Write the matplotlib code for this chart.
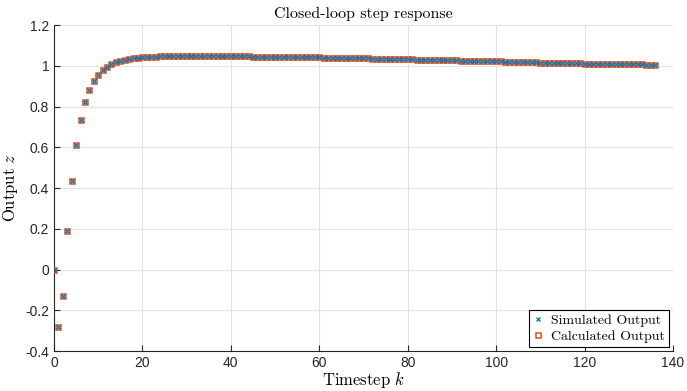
import matplotlib.pyplot as plt

plt.rcParams["mathtext.fontset"] = "cm"

# step response values, k = 0..136
k = list(range(137))
z_calc = [
    0.000, -0.280, -0.130, 0.190, 0.435, 0.610, 0.735, 0.820, 0.880, 0.925,
    0.955, 0.978, 0.995, 1.008, 1.017, 1.024, 1.030, 1.034, 1.037, 1.040,
    1.042, 1.043, 1.044, 1.045, 1.046, 1.047, 1.047, 1.048, 1.048, 1.048,
    1.048, 1.048, 1.048, 1.048, 1.048, 1.048, 1.047, 1.047, 1.047, 1.047,
    1.047, 1.046, 1.046, 1.046, 1.046, 1.045, 1.045, 1.045, 1.045, 1.044,
    1.044, 1.044, 1.043, 1.043, 1.043, 1.042, 1.042, 1.042, 1.041, 1.041,
    1.041, 1.040, 1.040, 1.039, 1.039, 1.039, 1.038, 1.038, 1.037, 1.037,
    1.036, 1.036, 1.035, 1.035, 1.034, 1.034, 1.033, 1.033, 1.032, 1.032,
    1.031, 1.031, 1.030, 1.030, 1.029, 1.029, 1.028, 1.028, 1.027, 1.027,
    1.026, 1.026, 1.025, 1.025, 1.024, 1.024, 1.023, 1.023, 1.022, 1.022,
    1.021, 1.021, 1.020, 1.020, 1.019, 1.019, 1.018, 1.018, 1.017, 1.017,
    1.016, 1.016, 1.015, 1.015, 1.014, 1.014, 1.013, 1.013, 1.012, 1.012,
    1.011, 1.011, 1.011, 1.010, 1.010, 1.009, 1.009, 1.009, 1.008, 1.008,
    1.008, 1.007, 1.007, 1.007, 1.006, 1.006, 1.006,
]
z_sim = list(z_calc)

fig = plt.figure(figsize=(6.87, 3.91), dpi=100)
ax = fig.add_axes([0.0786, 0.1023, 0.901, 0.8337])

ax.plot(k, z_calc, "s", mfc="none", mec="#D95319", ms=3.6, mew=1.1,
        label="Calculated Output", zorder=3)
ax.plot(k, z_sim, "x", color="#0072BD", ms=2.6, mew=0.9,
        label="Simulated Output", zorder=4)

ax.set_xlim(0, 140)
ax.set_ylim(-0.4, 1.2)
ax.set_xticks(range(0, 141, 20))
ax.set_yticks([-0.4, -0.2, 0, 0.2, 0.4, 0.6, 0.8, 1, 1.2])
ax.set_yticklabels(["-0.4", "-0.2", "0", "0.2", "0.4", "0.6", "0.8", "1", "1.2"])

ax.grid(True, color="#e3e3e3", linewidth=0.8)
ax.set_axisbelow(True)
for s in ["top", "right"]:
    ax.spines[s].set_visible(False)
for s in ["left", "bottom"]:
    ax.spines[s].set_color("#262626")
    ax.spines[s].set_linewidth(0.8)
ax.tick_params(direction="in", length=4, width=0.8, color="#262626",
               labelsize=10, labelcolor="#262626")
for lab in ax.get_xticklabels() + ax.get_yticklabels():
    lab.set_family("Liberation Sans")

ax.set_title("Closed-loop step response", family="cmr10", fontsize=11.5, pad=5)
ax.set_xlabel(r"$\mathrm{Timestep}\ k$", fontsize=12, labelpad=0)
ax.set_ylabel(r"$\mathrm{Output}\ z$", fontsize=12, labelpad=4)

h, l = ax.get_legend_handles_labels()
leg = ax.legend(h[::-1], l[::-1], loc="lower right", prop={"family": "cmr10", "size": 10},
                fancybox=False, edgecolor="black", framealpha=1,
                handlelength=0.8, handletextpad=0.5, borderpad=0.3,
                labelspacing=0.2, borderaxespad=0.3)
leg.get_frame().set_linewidth(0.8)

fig.savefig("out.png", dpi=100)
